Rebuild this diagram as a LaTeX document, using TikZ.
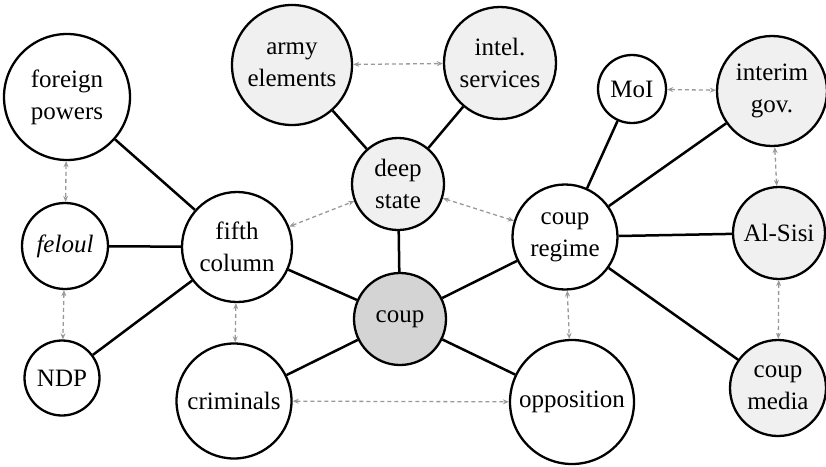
\documentclass[tikz,border=0pt]{standalone}
\usepackage{fontspec}
\setmainfont{Liberation Serif}
\usetikzlibrary{arrows.meta}
\definecolor{lightfill}{HTML}{F0F0F0}
\definecolor{coupfill}{HTML}{D4D4D4}
\begin{document}
\begin{tikzpicture}[x=1pt, y=-1pt,
        actor/.style={draw, circle, line width=2.3pt, inner sep=0pt, align=center, font=\fontsize{25}{32}\selectfont},
        stateactor/.style={actor, fill=lightfill},
        tie/.style={line width=2.5pt},
        rival/.style={black!40, line width=1.3pt, dash pattern=on 4pt off 3pt, {Stealth[length=6pt,width=5pt]}-{Stealth[length=6pt,width=5pt]}}]
    \useasboundingbox (0,0) rectangle (826,466);

    \node[actor, fill=coupfill, minimum size=92pt] (coup) at (400,319) {coup};
    \node[stateactor, minimum size=92pt] (deep) at (398,184) {deep\\state};
    \node[stateactor, minimum size=120pt] (army) at (292,65) {army\\elements};
    \node[stateactor, minimum size=112pt] (intel) at (500,63) {intel.\\services};
    \node[actor, minimum size=126pt] (foreign) at (67,97) {foreign\\powers};
    \node[actor, minimum size=86pt] (feloul) at (65,246) {\itshape feloul};
    \node[actor, minimum size=75pt] (ndp) at (62,378) {NDP};
    \node[actor, minimum size=110pt] (fifth) at (237,247) {fifth\\column};
    \node[actor, minimum size=115pt] (criminals) at (234,401) {criminals};
    \node[actor, minimum size=124pt] (opposition) at (572,402) {opposition};
    \node[actor, minimum size=105pt] (regime) at (565,237) {coup\\regime};
    \node[actor, minimum size=68pt] (moi) at (632,89) {MoI};
    \node[stateactor, minimum size=110pt] (interim) at (772,91) {interim\\gov.};
    \node[stateactor, minimum size=92pt] (sisi) at (779,233) {Al-Sisi};
    \node[stateactor, minimum size=96pt] (media) at (778,388) {coup\\media};

    % solid ties
    \draw[tie] (coup) -- (deep);
    \draw[tie] (coup) -- (fifth);
    \draw[tie] (coup) -- (criminals);
    \draw[tie] (coup) -- (opposition);
    \draw[tie] (coup) -- (regime);
    \draw[tie] (deep) -- (army);
    \draw[tie] (deep) -- (intel);
    \draw[tie] (fifth) -- (foreign);
    \draw[tie] (fifth) -- (feloul);
    \draw[tie] (fifth) -- (ndp);
    \draw[tie] (regime) -- (moi);
    \draw[tie] (regime) -- (interim);
    \draw[tie] (regime) -- (sisi);
    \draw[tie] (regime) -- (media);

    % dashed rivalries
    \draw[rival] (army) -- (intel);
    \draw[rival] (fifth) -- (deep);
    \draw[rival] (deep) -- (regime);
    \draw[rival] (foreign) -- (feloul);
    \draw[rival] (feloul) -- (ndp);
    \draw[rival] (fifth) -- (criminals);
    \draw[rival] (criminals) -- (opposition);
    \draw[rival] (regime) -- (opposition);
    \draw[rival] (moi) -- (interim);
    \draw[rival] (interim) -- (sisi);
    \draw[rival] (sisi) -- (media);
\end{tikzpicture}
\end{document}
